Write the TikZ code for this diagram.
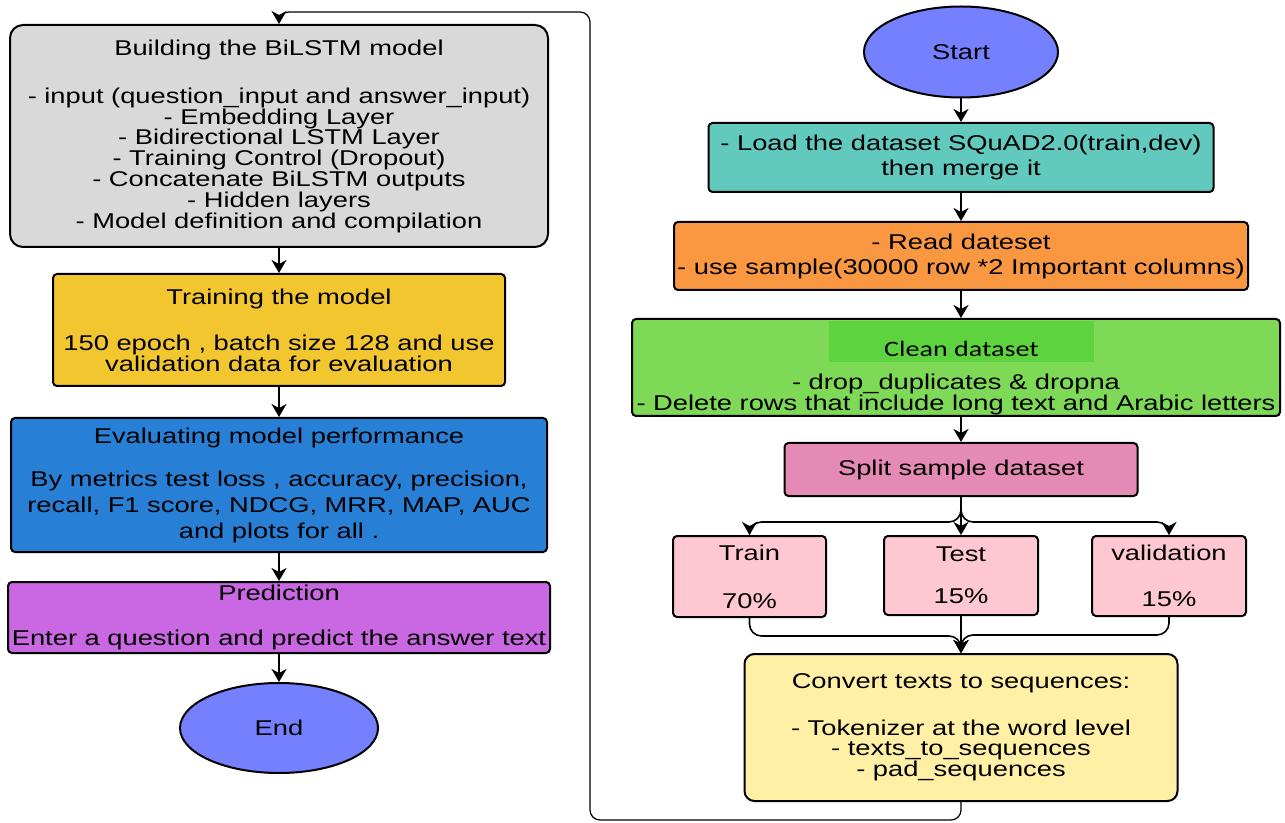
\documentclass[tikz,border=0pt]{standalone}
\usepackage{fontspec}
\setmainfont{Liberation Sans}[FakeStretch=1.276]
\newfontfamily\cleanfont{Carlito}[FakeStretch=1.276]
\usepackage{tikz}
\usetikzlibrary{arrows.meta}
\usetikzlibrary{shapes.geometric}
\definecolor{buildgray}{HTML}{D9D9D9}
\definecolor{trainyellow}{HTML}{F2C62F}
\definecolor{evalblue}{HTML}{2880D6}
\definecolor{predpurple}{HTML}{C968E2}
\definecolor{termblue}{HTML}{7580FF}
\definecolor{loadteal}{HTML}{62C9BE}
\definecolor{readorange}{HTML}{FA9741}
\definecolor{cleangreen}{HTML}{7ED957}
\definecolor{cleantitle}{HTML}{5DD43F}
\definecolor{splitpink}{HTML}{E48AB4}
\definecolor{partpink}{HTML}{FFC7D1}
\definecolor{convyellow}{HTML}{FFF0A6}
\tikzset{
  stepbox/.style={draw, line width=1pt, rounded corners=2pt, align=center,
    inner sep=0pt, font=\fontsize{10.7pt}{10.4pt}\selectfont},
  widelines/.style={font=\fontsize{10.7pt}{12.5pt}\selectfont},
  terminal/.style={ellipse, draw, line width=1pt, fill=termblue, inner sep=0pt,
    minimum width=97pt, minimum height=45.5pt, font=\fontsize{10.7pt}{10.4pt}\selectfont},
  flow/.style={line width=0.8pt},
  loopback/.style={line width=0.6pt, rounded corners=5pt}
}

\begin{document}
\begin{tikzpicture}[x=0.5pt,y=-0.5pt,
% one arrow head for every connector
-{Stealth[length=6.5pt,width=7.5pt,inset=2pt]}]
\useasboundingbox (0,0) rectangle (1285,823);

% left column: model
\node[stepbox, fill=buildgray, rounded corners=6.5pt, minimum width=269pt, minimum height=111pt] (build) at (279,136)
  {Building the BiLSTM model\\[13.7pt]- input (question\_input and answer\_input)\\- Embedding Layer\\- Bidirectional LSTM Layer\\- Training Control (Dropout)\\- Concatenate BiLSTM outputs\\- Hidden layers\\- Model definition and compilation};
\node[stepbox, fill=trainyellow, minimum width=226pt, minimum height=56pt] (training) at (279,330)
  {Training the model\\[12.6pt]150 epoch , batch size 128 and use\\validation data for evaluation};
\node[stepbox, fill=evalblue, minimum width=268pt, minimum height=67pt, font=\fontsize{10.7pt}{13pt}\selectfont] (evaluate) at (279,485)
  {Evaluating model performance\\[8.5pt]By metrics test loss , accuracy, precision,\\recall, F1 score, NDCG, MRR, MAP, AUC\\and plots for all .};
\node[stepbox, fill=predpurple, minimum width=271pt, minimum height=35.5pt] (predict) at (279,617.5)
  {Prediction\\[11.7pt]Enter a question and predict the answer text};
\node[terminal, minimum width=99pt, minimum height=45pt] (end) at (279,728) {End};

% right column: data
\node[terminal] (start) at (961,52) {Start};
\node[stepbox, widelines, fill=loadteal, minimum width=252.5pt, minimum height=34.5pt] (load) at (961,157.5)
  {- Load the dataset SQuAD2.0(train,dev)\\then merge it};
\node[stepbox, widelines, fill=readorange, minimum width=287pt, minimum height=34pt] (read) at (961,256)
  {- Read dateset\\- use sample(30000 row *2 Important columns)};
\node[stepbox, fill=cleangreen, minimum width=324pt, minimum height=48.5pt] (clean) at (956,367.5)
  {\hspace*{5.5pt}{\fboxsep=0pt\colorbox{cleantitle}{\rule[-5.5pt]{0pt}{20.5pt}\makebox[132.5pt]{\raisebox{-3pt}{\cleanfont\fontsize{11pt}{11pt}\selectfont Clean dataset}}}}\\[5.1pt]- drop\_duplicates \& dropna\\- Delete rows that include long text and Arabic letters};
\node[stepbox, fill=splitpink, minimum width=176.5pt, minimum height=26.5pt] (split) at (961,469.5) {Split sample dataset};
\node[stepbox, fill=partpink, minimum width=76.5pt, minimum height=40.5pt] (train) at (749.5,576.5) {Train\\[13.7pt]70\%};
\node[stepbox, fill=partpink, minimum width=77pt, minimum height=39.5pt] (test) at (961,575.5) {Test\\[10.7pt]15\%};
\node[stepbox, fill=partpink, minimum width=77pt, minimum height=40pt] (valid) at (1169,576) {validation\\[12.7pt]15\%};
\node[stepbox, fill=convyellow, rounded corners=5pt, minimum width=216.5pt, minimum height=73.5pt] (convert) at (961,727.5)
  {Convert texts to sequences:\\[12.7pt]- Tokenizer at the word level\\- texts\_to\_sequences\\- pad\_sequences};

\draw[flow] (start) -- (load);
\draw[flow] (load) -- (read);
\draw[flow] (read.south) -- (read.south |- clean.north);
\draw[flow] (clean.south -| split.north) -- (split.north);
\draw[flow, rounded corners=6pt] (split.south) -- ++(0,25) -| (train.north);
\draw[flow] (split.south) -- (test.north);
\draw[flow, rounded corners=6pt] (split.south) -- ++(0,25) -| (valid.north);
\draw[flow, rounded corners=6pt] (train.south) -- ++(0,18) -| (convert.north);
\draw[flow] (test.south) -- (convert.north);
\draw[flow, rounded corners=6pt] (valid.south) -- ++(0,18) -| (convert.north);

% back to the model column
\coordinate (loopfoot) at (590,820);
\coordinate (looptop) at (590,12);
\draw[loopback] (convert.south) |- (loopfoot) -- (looptop) -| (build.north);

\draw[flow] (build) -- (training);
\draw[flow] (training) -- (evaluate);
\draw[flow] (evaluate) -- (predict);
\draw[flow] (predict) -- (end);
\end{tikzpicture}
\end{document}
